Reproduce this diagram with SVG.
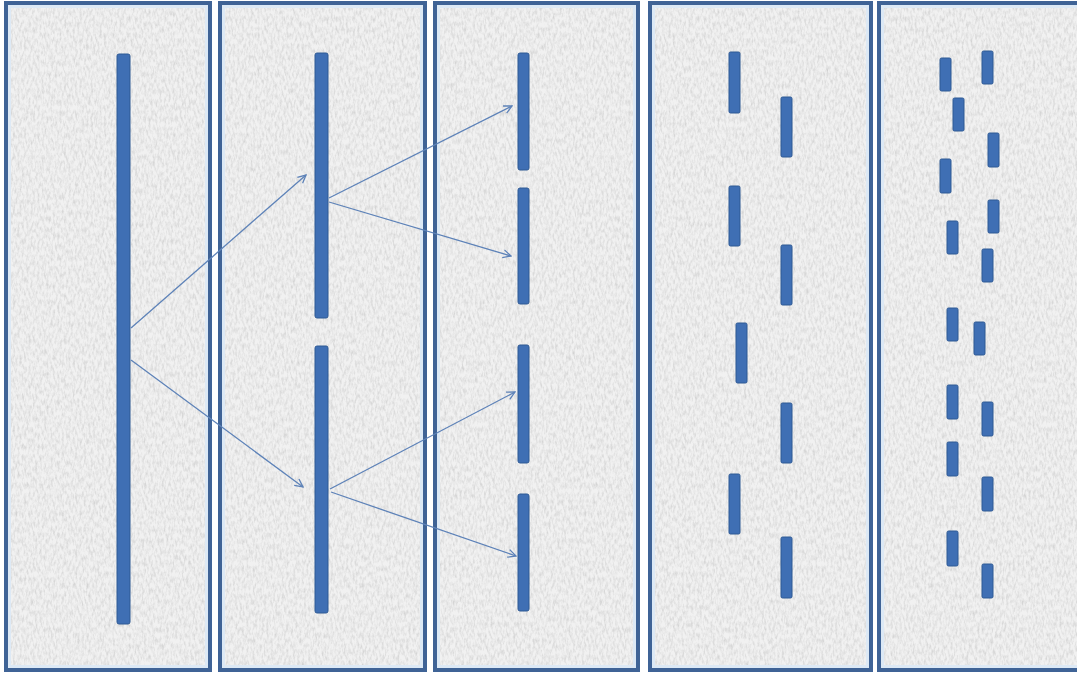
<svg xmlns="http://www.w3.org/2000/svg" width="1077" height="674" viewBox="0 0 1077 674">
<defs>
<style>
.bg{fill:#f1f1f1;stroke:none;filter:url(#granite)}
.frame{fill:none;stroke:#3f6396;stroke-width:4}
.glow{fill:none;stroke:#dde9f5;stroke-width:3}
.bar{fill:#3f6fb4;stroke:#2f5a94;stroke-width:1}
.conn{fill:none;stroke:#5d82b8;stroke-width:1.3;marker-end:url(#arr)}
</style>
<filter id="granite" x="0" y="0" width="100%" height="100%">
<feTurbulence type="fractalNoise" baseFrequency="0.45 0.18" numOctaves="3" seed="7" result="n"/>
<feColorMatrix in="n" type="matrix" values="0 0 0 0 0.6  0 0 0 0 0.6  0 0 0 0 0.6  1.6 0 0 0 -0.62" result="g"/>
<feComposite in="g" in2="SourceAlpha" operator="in" result="t"/>
<feMerge><feMergeNode in="SourceGraphic"/><feMergeNode in="t"/></feMerge>
</filter>
<marker id="arr" viewBox="0 0 10 10" refX="9" refY="5" markerWidth="10" markerHeight="10" markerUnits="userSpaceOnUse" orient="auto">
<path d="M1,1 L9,5 L1,9" fill="none" stroke="#5d82b8" stroke-width="1.3"/>
</marker>
</defs>
<rect x="0" y="0" width="1077" height="674" fill="#ffffff"/>
<g id="panel1">
<rect class="bg" x="6" y="3" width="204" height="667"/>
<rect class="glow" x="9.5" y="6.5" width="197" height="660"/>
<rect class="frame" x="6" y="3" width="204" height="667"/>
<rect class="bar" x="117" y="54" width="13" height="570" rx="2"/>
</g>
<g id="panel2">
<rect class="bg" x="220" y="3" width="205" height="667"/>
<rect class="glow" x="223.5" y="6.5" width="198" height="660"/>
<rect class="frame" x="220" y="3" width="205" height="667"/>
<rect class="bar" x="315" y="53" width="13" height="265" rx="2"/>
<rect class="bar" x="315" y="346" width="13" height="267" rx="2"/>
</g>
<g id="panel3">
<rect class="bg" x="435" y="3" width="203" height="667"/>
<rect class="glow" x="438.5" y="6.5" width="196" height="660"/>
<rect class="frame" x="435" y="3" width="203" height="667"/>
<rect class="bar" x="518" y="53" width="11" height="117" rx="2"/>
<rect class="bar" x="518" y="188" width="11" height="116" rx="2"/>
<rect class="bar" x="518" y="345" width="11" height="118" rx="2"/>
<rect class="bar" x="518" y="494" width="11" height="117" rx="2"/>
</g>
<g id="panel4">
<rect class="bg" x="650" y="3" width="221" height="667"/>
<rect class="glow" x="653.5" y="6.5" width="214" height="660"/>
<rect class="frame" x="650" y="3" width="221" height="667"/>
<rect class="bar" x="729" y="52" width="11" height="61" rx="1.5"/>
<rect class="bar" x="781" y="97" width="11" height="60" rx="1.5"/>
<rect class="bar" x="729" y="186" width="11" height="60" rx="1.5"/>
<rect class="bar" x="781" y="245" width="11" height="60" rx="1.5"/>
<rect class="bar" x="736" y="323" width="11" height="60" rx="1.5"/>
<rect class="bar" x="781" y="403" width="11" height="60" rx="1.5"/>
<rect class="bar" x="729" y="474" width="11" height="60" rx="1.5"/>
<rect class="bar" x="781" y="537" width="11" height="61" rx="1.5"/>
</g>
<g id="panel5">
<rect class="bg" x="879" y="3" width="210" height="667"/>
<rect class="glow" x="882.5" y="6.5" width="203" height="660"/>
<rect class="frame" x="879" y="3" width="210" height="667"/>
<rect class="bar" x="940" y="58" width="11" height="33" rx="1.5"/>
<rect class="bar" x="982" y="51" width="11" height="33" rx="1.5"/>
<rect class="bar" x="953" y="98" width="11" height="33" rx="1.5"/>
<rect class="bar" x="988" y="133" width="11" height="34" rx="1.5"/>
<rect class="bar" x="940" y="159" width="11" height="34" rx="1.5"/>
<rect class="bar" x="988" y="200" width="11" height="33" rx="1.5"/>
<rect class="bar" x="947" y="221" width="11" height="33" rx="1.5"/>
<rect class="bar" x="982" y="249" width="11" height="33" rx="1.5"/>
<rect class="bar" x="947" y="308" width="11" height="33" rx="1.5"/>
<rect class="bar" x="974" y="322" width="11" height="33" rx="1.5"/>
<rect class="bar" x="947" y="385" width="11" height="34" rx="1.5"/>
<rect class="bar" x="982" y="402" width="11" height="34" rx="1.5"/>
<rect class="bar" x="947" y="442" width="11" height="34" rx="1.5"/>
<rect class="bar" x="982" y="477" width="11" height="34" rx="1.5"/>
<rect class="bar" x="947" y="531" width="11" height="35" rx="1.5"/>
<rect class="bar" x="982" y="564" width="11" height="34" rx="1.5"/>
</g>
<g id="connectors">
<line class="conn" x1="131" y1="328" x2="306" y2="175"/>
<line class="conn" x1="131" y1="360" x2="303" y2="487"/>
<line class="conn" x1="329" y1="198" x2="512" y2="106"/>
<line class="conn" x1="329" y1="202" x2="511" y2="256"/>
<line class="conn" x1="330" y1="489" x2="515" y2="392"/>
<line class="conn" x1="331" y1="492" x2="516" y2="556"/>
</g>
</svg>
